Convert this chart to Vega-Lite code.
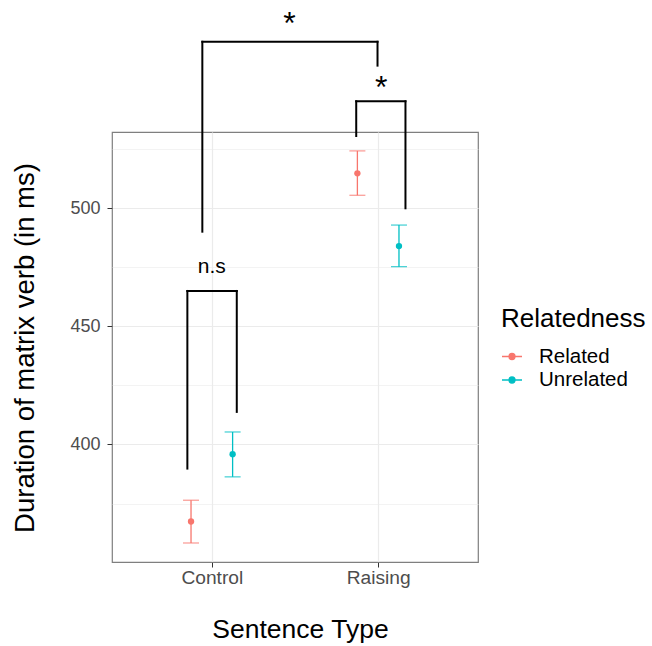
{
  "$schema": "https://vega.github.io/schema/vega-lite/v6.json",
  "width": 366,
  "height": 430,
  "autosize": {"type": "none"},
  "padding": {"left": 112, "top": 132, "right": 174, "bottom": 84},
  "background": "white",
  "config": {
    "font": "Liberation Sans",
    "view": {"stroke": "#7f7f7f", "strokeWidth": 1.2},
    "legend": {"padding": 0}
  },
  "datasets": {
    "means": [
      {"type": "Control", "rel": "Related", "mean": 367.4, "lo": 358.3, "hi": 376.4},
      {"type": "Control", "rel": "Unrelated", "mean": 395.9, "lo": 386.3, "hi": 405.3},
      {"type": "Raising", "rel": "Related", "mean": 514.8, "lo": 505.5, "hi": 524.3},
      {"type": "Raising", "rel": "Unrelated", "mean": 484.0, "lo": 475.3, "hi": 492.9}
    ],
    "segments": [
      {"x": 0.853, "y": 389.8, "x2": 0.853, "y2": 465.0},
      {"x": 0.853, "y": 465.0, "x2": 1.150, "y2": 465.0},
      {"x": 1.150, "y": 465.0, "x2": 1.150, "y2": 413.8},
      {"x": 1.868, "y": 530.6, "x2": 1.868, "y2": 545.3},
      {"x": 1.868, "y": 545.3, "x2": 2.164, "y2": 545.3},
      {"x": 2.164, "y": 545.3, "x2": 2.164, "y2": 500.0},
      {"x": 0.943, "y": 490.1, "x2": 0.943, "y2": 570.5},
      {"x": 0.943, "y": 570.5, "x2": 1.996, "y2": 570.5},
      {"x": 1.996, "y": 570.5, "x2": 1.996, "y2": 560.4}
    ],
    "labels": [
      {"x": 1.0, "y": 472.7, "label": "n.s"},
      {"x": 1.467, "y": 573.6, "label": "*"},
      {"x": 2.018, "y": 546.9, "label": "*"}
    ]
  },
  "layer": [
    {
      "data": {"name": "means"},
      "transform": [
        {"calculate": "(datum.type == 'Control' ? 1 : 2) + (datum.rel == 'Related' ? -0.125 : 0.125)", "as": "xpos"}
      ],
      "mark": {"type": "rule", "strokeWidth": 1.3},
      "encoding": {
        "x": {
          "field": "xpos", "type": "quantitative",
          "scale": {"domain": [0.4, 2.6], "nice": false, "zero": false},
          "axis": {
            "values": [1, 2],
            "labelExpr": "datum.value == 1 ? 'Control' : 'Raising'",
            "title": "Sentence Type",
            "titleFontSize": 26.5, "titleFontWeight": "normal", "titleColor": "black",
            "titleX": 188, "titleY": 75, "titleBaseline": "alphabetic", "titleAlign": "center",
            "labelFontSize": 19.2, "labelColor": "#4d4d4d", "labelPadding": 1.5,
            "tickSize": 5, "tickColor": "#333333", "tickWidth": 1,
            "domain": false,
            "grid": true, "gridColor": "#ebebeb", "gridWidth": 1.2
          }
        },
        "y": {
          "field": "lo", "type": "quantitative",
          "scale": {"domain": [350.25, 532.3], "nice": false, "zero": false},
          "axis": {
            "values": [375, 400, 425, 450, 475, 500, 525],
            "labelExpr": "datum.value % 50 == 0 ? datum.label : ''",
            "title": "Duration of matrix verb (in ms)",
            "titleFontSize": 27.5, "titleFontWeight": "normal", "titleColor": "black",
            "titleX": -79, "titleY": 215.5, "titleBaseline": "alphabetic", "titleAlign": "center", "titleAngle": -90,
            "labelFontSize": 18, "labelColor": "#4d4d4d", "labelPadding": 7,
            "tickSize": 5, "tickColor": "#333333", "tickWidth": 1,
            "tickOpacity": {"condition": {"test": "datum.value % 50 == 0", "value": 1}, "value": 0},
            "domain": false,
            "grid": true, "gridColor": "#ebebeb",
            "gridWidth": {"condition": {"test": "datum.value % 50 == 0", "value": 1.2}, "value": 0.6}
          }
        },
        "y2": {"field": "hi"},
        "color": {
          "field": "rel", "type": "nominal",
          "scale": {"domain": ["Related", "Unrelated"], "range": ["#F8766D", "#00BFC4"]},
          "legend": {
            "title": "Relatedness",
            "orient": "none", "legendX": 389, "legendY": 173.5,
            "titleFontSize": 26, "titleFontWeight": "normal", "titleColor": "black", "titlePadding": 14,
            "labelFontSize": 20.5, "labelColor": "black", "labelOffset": 16,
            "rowPadding": 1.5,
            "symbolType": "M-1,0H1M-0.3,0A0.3,0.3 0 1,1 0.3,0A0.3,0.3 0 1,1 -0.3,0Z",
            "symbolSize": 400, "symbolStrokeWidth": 1.3,
            "encode": {"symbols": {"update": {"stroke": {"scale": "color", "field": "value"}, "fill": {"scale": "color", "field": "value"}}}}
          }
        }
      }
    },
    {
      "data": {"name": "means"},
      "transform": [
        {"calculate": "(datum.type == 'Control' ? 1 : 2) + (datum.rel == 'Related' ? -0.125 : 0.125)", "as": "xpos"}
      ],
      "mark": {"type": "tick", "orient": "horizontal", "size": 16, "thickness": 1.3},
      "encoding": {
        "x": {"field": "xpos", "type": "quantitative"},
        "y": {"field": "lo", "type": "quantitative"},
        "color": {"field": "rel", "type": "nominal"}
      }
    },
    {
      "data": {"name": "means"},
      "transform": [
        {"calculate": "(datum.type == 'Control' ? 1 : 2) + (datum.rel == 'Related' ? -0.125 : 0.125)", "as": "xpos"}
      ],
      "mark": {"type": "tick", "orient": "horizontal", "size": 16, "thickness": 1.3},
      "encoding": {
        "x": {"field": "xpos", "type": "quantitative"},
        "y": {"field": "hi", "type": "quantitative"},
        "color": {"field": "rel", "type": "nominal"}
      }
    },
    {
      "data": {"name": "means"},
      "transform": [
        {"calculate": "(datum.type == 'Control' ? 1 : 2) + (datum.rel == 'Related' ? -0.125 : 0.125)", "as": "xpos"}
      ],
      "mark": {"type": "point", "shape": "circle", "filled": true, "size": 40, "opacity": 1},
      "encoding": {
        "x": {"field": "xpos", "type": "quantitative"},
        "y": {"field": "mean", "type": "quantitative"},
        "color": {"field": "rel", "type": "nominal"}
      }
    },
    {
      "data": {"name": "segments"},
      "mark": {"type": "rule", "color": "black", "strokeWidth": 2, "strokeCap": "square"},
      "encoding": {
        "x": {"field": "x", "type": "quantitative"},
        "x2": {"field": "x2"},
        "y": {"field": "y", "type": "quantitative"},
        "y2": {"field": "y2"}
      }
    },
    {
      "data": {"name": "labels"},
      "transform": [{"filter": "datum.label == 'n.s'"}],
      "mark": {"type": "text", "fontSize": 21, "color": "black", "align": "center", "baseline": "alphabetic"},
      "encoding": {
        "x": {"field": "x", "type": "quantitative"},
        "y": {"field": "y", "type": "quantitative"},
        "text": {"field": "label"}
      }
    },
    {
      "data": {"name": "labels"},
      "transform": [{"filter": "datum.label == '*'"}],
      "mark": {"type": "text", "fontSize": 32, "color": "black", "align": "center", "baseline": "alphabetic"},
      "encoding": {
        "x": {"field": "x", "type": "quantitative"},
        "y": {"field": "y", "type": "quantitative"},
        "text": {"field": "label"}
      }
    }
  ]
}
